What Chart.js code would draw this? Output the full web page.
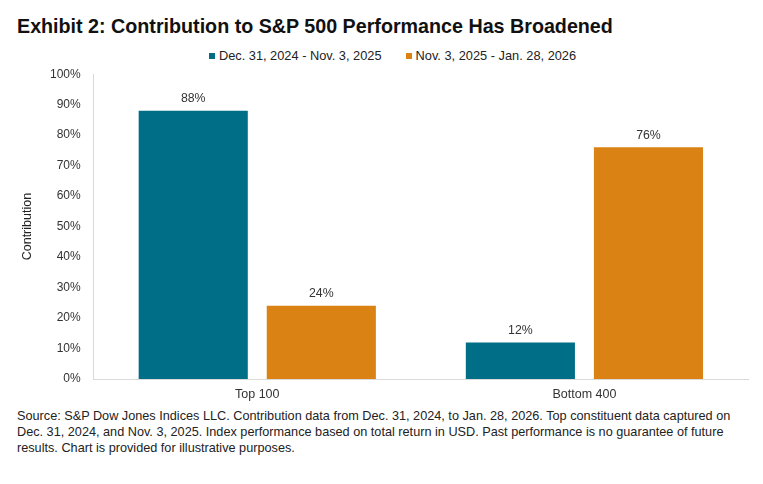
<!DOCTYPE html>
<html><head><meta charset="utf-8">
<script src="https://cdn.jsdelivr.net/npm/chart.js@4"></script>
<style>
html,body{margin:0;padding:0;background:#fff;width:763px;height:484px;overflow:hidden;font-family:"Liberation Sans",Arial,sans-serif;}
#title{position:absolute;left:17px;top:15px;font-size:19.7px;font-weight:bold;color:#111;white-space:nowrap;}
#legend{position:absolute;left:11px;top:48px;width:763px;display:flex;justify-content:center;font-size:12.8px;color:#222;}
.item{display:flex;align-items:center;margin:0 12px;white-space:nowrap;}
.sw{width:6px;height:6px;margin-right:4px;}
#wrap{position:absolute;left:0;top:62px;width:763px;height:342px;}
#note{position:absolute;left:17px;top:408px;width:732px;font-size:12.7px;line-height:16px;color:#222;}
</style></head><body>
<div id="title">Exhibit 2: Contribution to S&amp;P 500 Performance Has Broadened</div>
<div id="legend"></div>
<div id="wrap"><canvas id="c"></canvas></div>
<div id="note">Source: S&amp;P Dow Jones Indices LLC. Contribution data from Dec. 31, 2024, to Jan. 28, 2026. Top constituent data captured on Dec. 31, 2024, and Nov. 3, 2025. Index performance based on total return in USD. Past performance is no guarantee of future results. Chart is provided for illustrative purposes.</div>
<script>
const categories = ["Top 100", "Bottom 400"];
const seriesNames = ["Dec. 31, 2024 - Nov. 3, 2025", "Nov. 3, 2025 - Jan. 28, 2026"];
const period1 = [88, 12];
const period2 = [24, 76];
const colors = ["#016E88", "#DB8214"];
const FONT = '"Liberation Sans", Arial, sans-serif';

const valueLabels = {
  id: 'valueLabels',
  afterDatasetsDraw(chart) {
    const ctx = chart.ctx;
    ctx.save();
    ctx.font = '12.3px ' + FONT;
    ctx.fillStyle = '#333';
    ctx.textAlign = 'center';
    ctx.textBaseline = 'bottom';
    chart.data.datasets.forEach((ds, i) => {
      chart.getDatasetMeta(i).data.forEach((bar, j) => {
        ctx.fillText(ds.data[j] + '%', bar.x, bar.y - 6);
      });
    });
    ctx.restore();
  }
};

const chart = new Chart(document.getElementById('c'), {
  type: 'bar',
  data: {
    labels: categories,
    datasets: [
      {label: seriesNames[0], data: period1, backgroundColor: colors[0]},
      {label: seriesNames[1], data: period2, backgroundColor: colors[1]}
    ]
  },
  options: {
    responsive: true,
    maintainAspectRatio: false,
    animation: false,
    categoryPercentage: 0.783,
    barPercentage: 0.852,
    layout: {padding: {left: 16, right: 15, top: 6, bottom: 2}},
    plugins: {
      legend: {display: false},
      tooltip: {enabled: false}
    },
    scales: {
      x: {
        grid: {display: false},
        border: {color: '#d9d9d9'},
        ticks: {color: '#333', padding: 0, font: {family: FONT, size: 12.5}}
      },
      y: {
        min: 0, max: 100,
        ticks: {stepSize: 10, color: '#333', padding: 5, callback: v => v + '%',
          font: {family: FONT, size: 12}},
        grid: {display: false},
        border: {color: '#d9d9d9'},
        title: {display: true, text: 'Contribution', color: '#222', padding: {top: 4, bottom: 10},
          font: {family: FONT, size: 12.5}}
      }
    }
  },
  plugins: [valueLabels]
});

const leg = document.getElementById('legend');
chart.data.datasets.forEach(ds => {
  const it = document.createElement('div');
  it.className = 'item';
  const sw = document.createElement('span');
  sw.className = 'sw';
  sw.style.background = ds.backgroundColor;
  const tx = document.createElement('span');
  tx.textContent = ds.label;
  it.appendChild(sw); it.appendChild(tx);
  leg.appendChild(it);
});
</script>
</body></html>
